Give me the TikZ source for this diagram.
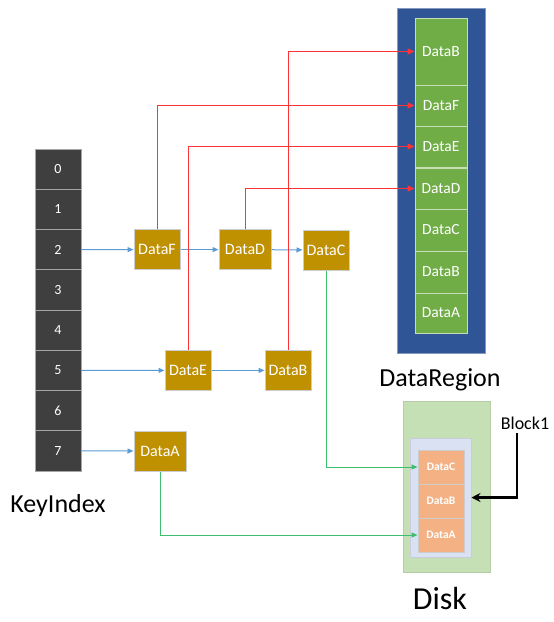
\documentclass[tikz,border=0pt]{standalone}
\usepackage{fontspec}
\setmainfont{Carlito}
\usetikzlibrary{arrows.meta, positioning}
\definecolor{cdark}{HTML}{3F3F3F}
\definecolor{cgold}{HTML}{BF9000}
\definecolor{cnavy}{HTML}{2F5597}
\definecolor{cgreen}{HTML}{70AD47}
\definecolor{clime}{HTML}{C5E0B4}
\definecolor{clav}{HTML}{D9E1F2}
\definecolor{corange}{HTML}{F4B183}
\definecolor{cblue}{HTML}{5B9BD5}
\definecolor{cred}{HTML}{FF3333}
\definecolor{cline}{HTML}{3DBE6E}
\tikzset{
  every picture/.style={line width=1pt},
  keycell/.style={draw=gray!70, fill=cdark, text=white, minimum width=46pt, minimum height=40.25pt, inner sep=0pt, font=\fontsize{14}{16}\selectfont},
  databox/.style={draw=gray!40, fill=cgold, text=white, minimum width=46pt, minimum height=40pt, inner sep=0pt, font=\fontsize{16}{18}\selectfont},
  regcell/.style={draw=white!60!cgreen, fill=cgreen, text=white, minimum width=52pt, inner sep=0pt, font=\fontsize{15.5}{18}\selectfont},
  diskcell/.style={draw=gray!40, fill=corange, text=white, minimum width=46pt, minimum height=34pt, inner sep=0pt, font=\bfseries\fontsize{11.5}{13}\selectfont},
  bluearrow/.style={-{Triangle[length=6pt,width=5pt]}, draw=cblue},
  redarrow/.style={-{Triangle[length=7pt,width=6pt]}, draw=cred},
  greenarrow/.style={-{Triangle[length=6pt,width=5pt]}, draw=cline},
  biglabel/.style={font=\fontsize{26}{30}\selectfont},
}

\begin{document}
\begin{tikzpicture}[x=1pt, y=-1pt]
  \useasboundingbox (0,0) rectangle (554,622);
  \foreach \i in {0,...,7} \node[keycell] (k\i) at (58, {149+40.25*(\i+0.5)}) {\i};
  \node[biglabel] (keylabel) at (58,506) {KeyIndex};

  \node[databox] (dataF) at (157,249.6) {DataF};
  \node[databox, minimum width=52pt] (dataD) at (245,249.6) {DataD};
  \node[databox] (dataC) at (326,250) {DataC};
  \node[databox] (dataE) at (188,370.4) {DataE};
  \node[databox] (dataB) at (288,370.4) {DataB};
  \node[databox, minimum width=52pt] (dataA) at (160,451) {DataA};

  \node[draw=cnavy!60, fill=cnavy, minimum width=88pt, minimum height=345pt, inner sep=0pt] (region) at (441,180.5) {};
  \foreach \n/\t/\y/\h in {rB1/DataB/51.5/67, rF/DataF/105.5/41, rE/DataE/146.5/41, rD/DataD/188.5/41, rC/DataC/230/42, rB/DataB/272/42, rA/DataA/313/40}
    \node[regcell, minimum height=\h pt] (\n) at (441,\y) {\t};
  \node[biglabel] (reglabel) at (440,380) {DataRegion};

  \node[draw=clime!80!gray, fill=clime, minimum width=87pt, minimum height=171pt, inner sep=0pt] (disk) at (446.5,486.5) {};
  \node[draw=clav!80!gray, fill=clav, minimum width=61pt, minimum height=119pt, inner sep=0pt] (block) at (440.5,497.5) {};
  \node[diskcell] (dC) at (441,467) {DataC};
  \node[diskcell] (dB) at (441,501) {DataB};
  \node[diskcell] (dA) at (441,535) {DataA};
  \node[font=\fontsize{32}{36}\selectfont] (disklabel) at (440,598) {Disk};
  \node[font=\fontsize{18}{21}\selectfont] (block1) at (525,423) {Block1};

  \draw[bluearrow] (k2) -- (dataF);
  \draw[bluearrow] (dataF) -- (dataD);
  \draw[bluearrow] (dataD) -- (dataC);
  \draw[bluearrow] (k5) -- (dataE);
  \draw[bluearrow] (dataE) -- (dataB);
  \draw[bluearrow] (k7) -- (dataA);

  \draw[redarrow] (dataB) |- (rB1);
  \draw[redarrow] (dataF) |- (rF);
  \draw[redarrow] (dataE) |- (rE);
  \draw[redarrow] (dataD) |- (rD);

  \draw[greenarrow] (dataC) |- (dC);
  \draw[greenarrow] (dataA) |- (dA);

  \draw[-{Stealth[length=9pt,width=9pt]}, line width=2.5pt] ([xshift=-8pt]block1.south) |- (block);
\end{tikzpicture}
\end{document}
